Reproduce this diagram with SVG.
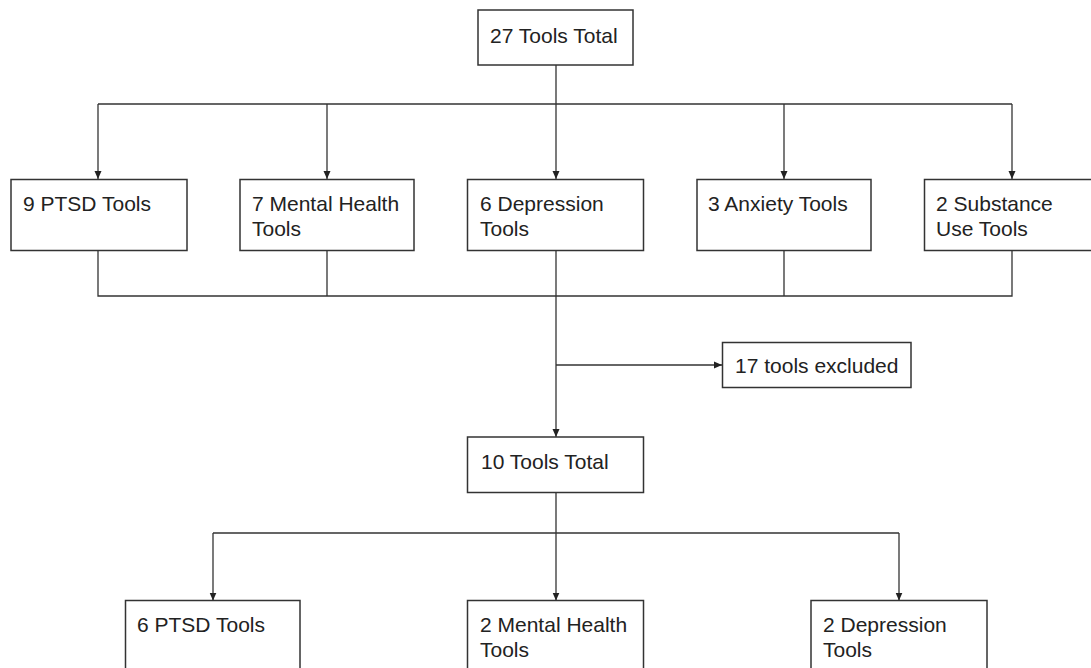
<svg xmlns="http://www.w3.org/2000/svg" width="1091" height="668" viewBox="0 0 1091 668">
<style>
.box{fill:#fff;stroke:#333;stroke-width:1.5}
.t{font-family:"Liberation Sans",Arial,sans-serif;font-size:21px;fill:#222}
.c{fill:none;stroke:#333;stroke-width:1.3}
.a{fill:none;stroke:#333;stroke-width:1.3;marker-end:url(#ah)}
</style>
<defs>
<marker id="ah" markerWidth="9" markerHeight="9" refX="8" refY="4.5" orient="auto" markerUnits="userSpaceOnUse">
<path d="M0,1 L8,4.5 L0,8 Z" fill="#222"/>
</marker>
</defs>
<rect width="1091" height="668" fill="#fff"/>
<g id="connectors">
<path class="c" d="M556,65 V104 M98,104 H1012"/>
<path class="a" d="M98,104 V179"/>
<path class="a" d="M327,104 V179"/>
<path class="a" d="M556,104 V179"/>
<path class="a" d="M784,104 V179"/>
<path class="a" d="M1012,104 V179"/>
<path class="c" d="M98,251 V296 H1012 V251 M327,251 V296 M784,251 V296"/>
<path class="a" d="M556,251 V437"/>
<path class="a" d="M556,365 H722"/>
<path class="c" d="M556,493 V533 M213,533 H899"/>
<path class="a" d="M213,533 V600.5"/>
<path class="a" d="M556,533 V600.5"/>
<path class="a" d="M899,533 V600.5"/>
</g>
<g id="n27"><rect class="box" x="478" y="10" width="155" height="55"/><text class="t" x="490" y="42.5">27 Tools Total</text></g>
<g id="n9ptsd"><rect class="box" x="11" y="179.5" width="176" height="71"/><text class="t" x="23" y="211">9 PTSD Tools</text></g>
<g id="n7mh"><rect class="box" x="240" y="179.5" width="174" height="71"/><text class="t" x="252" y="211">7 Mental Health</text><text class="t" x="252" y="235.5">Tools</text></g>
<g id="n6dep"><rect class="box" x="467.5" y="179.5" width="176" height="71"/><text class="t" x="480" y="211">6 Depression</text><text class="t" x="480" y="235.5">Tools</text></g>
<g id="n3anx"><rect class="box" x="697" y="179.5" width="174" height="71"/><text class="t" x="708" y="211">3 Anxiety Tools</text></g>
<g id="n2sub"><rect class="box" x="924.5" y="179.5" width="176" height="71"/><text class="t" x="936" y="211">2 Substance</text><text class="t" x="936" y="235.5">Use Tools</text></g>
<g id="nexcl"><rect class="box" x="722.5" y="342.5" width="188.5" height="45"/><text class="t" x="735" y="373">17 tools excluded</text></g>
<g id="n10"><rect class="box" x="467.5" y="437" width="176" height="55.5"/><text class="t" x="481" y="469">10 Tools Total</text></g>
<g id="n6ptsd"><rect class="box" x="125.5" y="600.5" width="174.5" height="80"/><text class="t" x="137" y="632">6 PTSD Tools</text></g>
<g id="n2mh"><rect class="box" x="467.5" y="600.5" width="176" height="80"/><text class="t" x="480" y="632">2 Mental Health</text><text class="t" x="480" y="656.5">Tools</text></g>
<g id="n2dep"><rect class="box" x="811" y="600.5" width="176" height="80"/><text class="t" x="823" y="632">2 Depression</text><text class="t" x="823" y="656.5">Tools</text></g>
</svg>
